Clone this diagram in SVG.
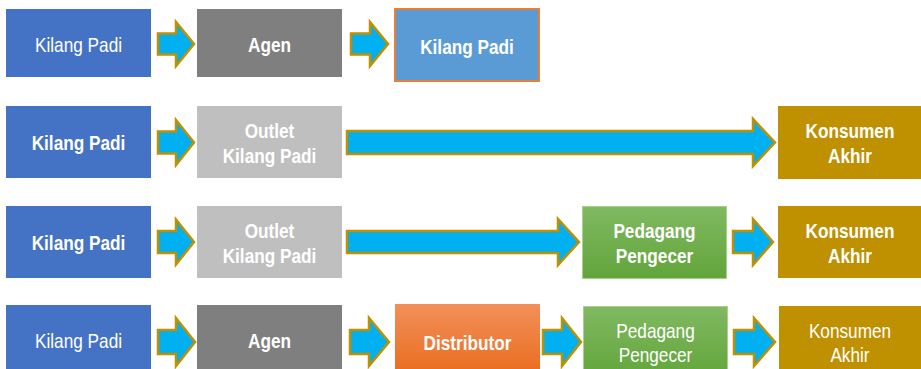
<svg xmlns="http://www.w3.org/2000/svg" width="921" height="369" viewBox="0 0 921 369">
<defs>
<linearGradient id="gGreen" x1="0" y1="0" x2="0" y2="1"><stop offset="0" stop-color="#80B962"/><stop offset="1" stop-color="#62A53A"/></linearGradient>
<linearGradient id="gOrange" x1="0" y1="0" x2="0" y2="1"><stop offset="0" stop-color="#F29059"/><stop offset="1" stop-color="#EA6C1E"/></linearGradient>
<style>
.t{font-family:"Liberation Sans",Arial,sans-serif;font-size:21px;fill:#fff;text-anchor:middle}
.b{font-weight:bold}
.arr{fill:#00B0F0;stroke:#BF9000;stroke-width:2.5;stroke-linejoin:miter}
.blue{fill:#4472C4}.gray{fill:#7F7F7F}.lgray{fill:#BFBFBF}.gold{fill:#BF9000}
.lblue{fill:#5B9BD5;stroke:#ED7D31;stroke-width:2}
.green{fill:url(#gGreen);stroke:#A9D18E;stroke-width:1}
.orange{fill:url(#gOrange)}
</style>
</defs>
<g id="connectors">
<polygon class="arr" points="158,33.5 176,33.5 176,22 194,44 176,66 176,54.5 158,54.5"/>
<polygon class="arr" points="351,33.5 370,33.5 370,22 388,44 370,66 370,54.5 351,54.5"/>
<polygon class="arr" points="158,131.5 176,131.5 176,120 194,142.5 176,165 176,153.5 158,153.5"/>
<polygon class="arr" points="347,131 753,131 753,119 775,142.5 753,166 753,154 347,154"/>
<polygon class="arr" points="158,231 176,231 176,219.5 194,242 176,264.5 176,253 158,253"/>
<polygon class="arr" points="347,231 558,231 558,219 579,242 558,265 558,253 347,253"/>
<polygon class="arr" points="733,231 753,231 753,219 773,242 753,265 753,253 733,253"/>
<polygon class="arr" points="158,330 176,330 176,318 195,342 176,366 176,354 158,354"/>
<polygon class="arr" points="350,330 369,330 369,318 389,342 369,366 369,354 350,354"/>
<polygon class="arr" points="543,330 562,330 562,318 581,342 562,366 562,354 543,354"/>
<polygon class="arr" points="734,330 754,330 754,318 775,342 754,366 754,354 734,354"/>
</g>
<g id="r1-kilang"><rect class="blue" x="6" y="9" width="145" height="68"/><text class="t" transform="translate(78.5 52) scale(0.82 1)">Kilang Padi</text></g>
<g id="r1-agen"><rect class="gray" x="197" y="9" width="145" height="68"/><text class="t b" transform="translate(269.5 52) scale(0.82 1)">Agen</text></g>
<g id="r1-kilang2"><rect class="lblue" x="395" y="9" width="144" height="72"/><text class="t b" transform="translate(467 54) scale(0.82 1)">Kilang Padi</text></g>
<g id="r2-kilang"><rect class="blue" x="6" y="106" width="145" height="72"/><text class="t b" transform="translate(78.5 150) scale(0.82 1)">Kilang Padi</text></g>
<g id="r2-outlet"><rect class="lgray" x="197" y="106" width="145" height="72"/><text class="t b" transform="translate(269.5 138) scale(0.82 1)">Outlet</text><text class="t b" transform="translate(269.5 163) scale(0.82 1)">Kilang Padi</text></g>
<g id="r2-konsumen"><rect class="gold" x="778" y="106" width="143" height="73"/><text class="t b" transform="translate(850 138) scale(0.82 1)">Konsumen</text><text class="t b" transform="translate(850 163) scale(0.82 1)">Akhir</text></g>
<g id="r3-kilang"><rect class="blue" x="6" y="206" width="145" height="72"/><text class="t b" transform="translate(78.5 250) scale(0.82 1)">Kilang Padi</text></g>
<g id="r3-outlet"><rect class="lgray" x="197" y="206" width="145" height="72"/><text class="t b" transform="translate(269.5 238) scale(0.82 1)">Outlet</text><text class="t b" transform="translate(269.5 263) scale(0.82 1)">Kilang Padi</text></g>
<g id="r3-pedagang"><rect class="green" x="582.5" y="206.5" width="144" height="72"/><text class="t b" transform="translate(654.5 238) scale(0.82 1)">Pedagang</text><text class="t b" transform="translate(654.5 263) scale(0.82 1)">Pengecer</text></g>
<g id="r3-konsumen"><rect class="gold" x="778" y="206" width="143" height="72"/><text class="t b" transform="translate(850 238) scale(0.82 1)">Konsumen</text><text class="t b" transform="translate(850 263) scale(0.82 1)">Akhir</text></g>
<g id="r4-kilang"><rect class="blue" x="6" y="305" width="145" height="72"/><text class="t" transform="translate(78.5 348) scale(0.82 1)">Kilang Padi</text></g>
<g id="r4-agen"><rect class="gray" x="197" y="305" width="145" height="72"/><text class="t b" transform="translate(269.5 348) scale(0.82 1)">Agen</text></g>
<g id="r4-distributor"><rect class="orange" x="395" y="304" width="145" height="72"/><text class="t b" transform="translate(467.5 350) scale(0.82 1)">Distributor</text></g>
<g id="r4-pedagang"><rect class="green" x="583.5" y="306.5" width="144" height="72"/><text class="t" transform="translate(655.5 338) scale(0.82 1)">Pedagang</text><text class="t" transform="translate(655.5 362) scale(0.82 1)">Pengecer</text></g>
<g id="r4-konsumen"><rect class="gold" x="779" y="306" width="142" height="72"/><text class="t" transform="translate(850 338) scale(0.82 1)">Konsumen</text><text class="t" transform="translate(850 362) scale(0.82 1)">Akhir</text></g>
</svg>
